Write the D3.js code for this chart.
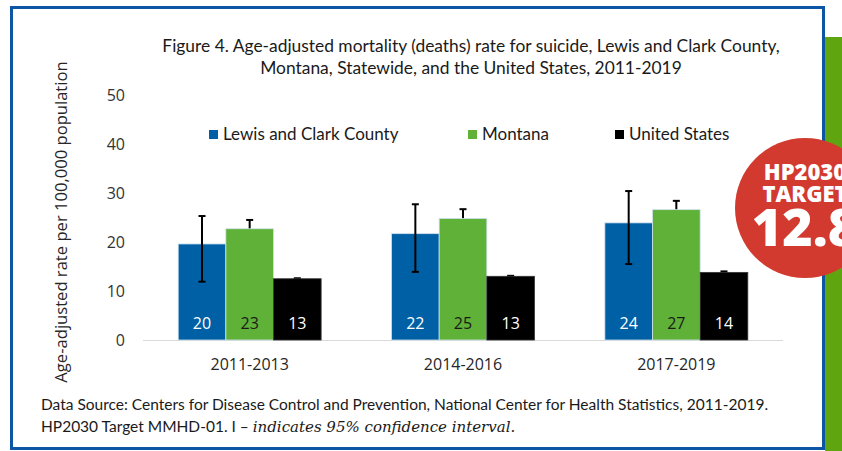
<!DOCTYPE html>
<html><head><meta charset="utf-8">
<script src="https://cdn.jsdelivr.net/npm/d3@7"></script>
<style>body{margin:0;background:#fff}svg{display:block}</style>
</head><body>
<script>
const categories = ["2011-2013", "2014-2016", "2017-2019"];
const seriesNames = ["Lewis and Clark County", "Montana", "United States"];
const lewisClark = [19.6, 21.7, 23.9];
const montana = [22.7, 24.8, 26.6];
const unitedStates = [12.5, 13.0, 13.8];
const lewisClarkLow = [11.9, 13.9, 15.5];
const lewisClarkHigh = [25.3, 27.7, 30.4];
const montanaLow = [21.0, 23.0, 24.6];
const montanaHigh = [24.5, 26.7, 28.4];
const unitedStatesLow = [12.3, 12.8, 13.6];
const unitedStatesHigh = [12.6, 13.1, 14.0];
const yTicks = [0, 10, 20, 30, 40, 50];
const titleLines = ["Figure 4. Age-adjusted mortality (deaths) rate for suicide, Lewis and Clark County,",
                    "Montana, Statewide, and the United States, 2011-2019"];
const yLabel = "Age-adjusted rate per 100,000 population";
const badgeLines = ["HP2030", "TARGET", "12.8"];

const colors = ["#0060a6", "#5fb138", "#000000"];
const labelColors = ["#ffffff", "#1a1a1a", "#ffffff"];
const values = [lewisClark, montana, unitedStates];
const lows = [lewisClarkLow, montanaLow, unitedStatesLow];
const highs = [lewisClarkHigh, montanaHigh, unitedStatesHigh];

const W = 842, H = 451;
const svg = d3.select("body").append("svg").attr("width", W).attr("height", H);
const fontMain = "Lato, 'Open Sans', sans-serif";
const fontAxis = "'Open Sans', 'Noto Sans', sans-serif";

// green strip on right
svg.append("rect").attr("x", 825).attr("y", 37).attr("width", 17).attr("height", 414).attr("fill", "#5fa50f");
// frame
svg.append("rect").attr("x", 11.5).attr("y", 7.5).attr("width", 812).attr("height", 441)
  .attr("fill", "#fff").attr("stroke", "#0d56a6").attr("stroke-width", 3);

// title
svg.append("g").selectAll("text").data(titleLines).join("text")
  .attr("x", 471).attr("y", (d, i) => 52 + i * 22)
  .attr("text-anchor", "middle").attr("font-family", fontMain).attr("font-size", 17.4)
  .attr("fill", "#1a1a1a").text(d => d);

const y = d3.scaleLinear().domain([0, 50]).range([340, 95]);
const x0 = d3.scaleBand().domain(categories).range([143, 783]).paddingInner(0.33).paddingOuter(0.165);
const x1 = d3.scaleBand().domain(seriesNames).range([0, x0.bandwidth()]);

// baseline
svg.append("line").attr("x1", 143).attr("x2", 783).attr("y1", y(0) + 0.5).attr("y2", y(0) + 0.5)
  .attr("stroke", "#d9d9d9").attr("stroke-width", 1);

// y axis
const yAxis = svg.append("g").attr("transform", "translate(143,0)")
  .call(d3.axisLeft(y).tickValues(yTicks).tickSize(0).tickPadding(18));
yAxis.select(".domain").remove();
yAxis.selectAll("text").attr("font-family", fontAxis).attr("font-size", 16).attr("fill", "#333");

// x axis labels
const xAxis = svg.append("g").attr("transform", `translate(0,${y(0)})`)
  .call(d3.axisBottom(x0).tickSize(0).tickPadding(19));
xAxis.select(".domain").remove();
xAxis.selectAll("text").attr("font-family", fontAxis).attr("font-size", 16).attr("fill", "#262626");

// y label
svg.append("text").attr("transform", "translate(67,222) rotate(-90)")
  .attr("text-anchor", "middle").attr("font-family", fontAxis).attr("font-size", 16.6)
  .attr("fill", "#262626").text(yLabel);

function errorBars(g, si) {
  const cap = 3.5;
  categories.forEach((c, ci) => {
    const cx = x0(c) + x1(seriesNames[si]) + x1.bandwidth() / 2;
    const eg = g.append("g").attr("stroke", "#000").attr("stroke-width", 2);
    eg.append("line").attr("x1", cx).attr("x2", cx).attr("y1", y(lows[si][ci])).attr("y2", y(highs[si][ci]));
    eg.append("line").attr("x1", cx - cap).attr("x2", cx + cap).attr("y1", y(lows[si][ci])).attr("y2", y(lows[si][ci]));
    eg.append("line").attr("x1", cx - cap).attr("x2", cx + cap).attr("y1", y(highs[si][ci])).attr("y2", y(highs[si][ci]));
  });
}

const plot = svg.append("g");
// Montana & US error bars drawn behind bars
errorBars(plot, 1);
errorBars(plot, 2);

seriesNames.forEach((s, si) => {
  plot.append("g").selectAll("rect").data(values[si]).join("rect")
    .attr("x", (d, i) => x0(categories[i]) + x1(s))
    .attr("y", d => y(d))
    .attr("width", x1.bandwidth())
    .attr("height", d => y(0) - y(d))
    .attr("fill", colors[si])
    .attr("stroke", si === 2 ? "#333" : "#cfe0ee").attr("stroke-width", 0.8);
});
errorBars(plot, 0);

// value labels
seriesNames.forEach((s, si) => {
  plot.append("g").selectAll("text").data(values[si]).join("text")
    .attr("x", (d, i) => x0(categories[i]) + x1(s) + x1.bandwidth() / 2)
    .attr("y", 329)
    .attr("text-anchor", "middle").attr("font-family", fontAxis).attr("font-size", 16)
    .attr("fill", labelColors[si]).text(d => d3.format(".0f")(d));
});

// legend
const legendX = [209, 468, 615];
const lg = svg.append("g");
seriesNames.forEach((s, si) => {
  lg.append("rect").attr("x", legendX[si]).attr("y", 130).attr("width", 9).attr("height", 9).attr("fill", colors[si]);
  lg.append("text").attr("x", legendX[si] + 14).attr("y", 140)
    .attr("font-family", fontMain).attr("font-size", 17).attr("fill", "#1a1a1a").text(s);
});

// footnote
const fn = svg.append("g").attr("font-family", fontMain).attr("font-size", 15.5).attr("fill", "#1a1a1a");
fn.append("text").attr("x", 41).attr("y", 410)
  .text("Data Source: Centers for Disease Control and Prevention, National Center for Health Statistics, 2011-2019.");
const t2 = fn.append("text").attr("x", 41).attr("y", 432);
t2.append("tspan").text("HP2030 Target MMHD-01. I \u2013 ");
t2.append("tspan").attr("font-family", "'DejaVu Serif', 'Liberation Serif', serif").attr("font-style", "italic")
  .attr("font-size", 15).text("indicates 95% confidence interval.");

// badge
const badge = svg.append("g");
badge.append("circle").attr("cx", 805).attr("cy", 208).attr("r", 70).attr("fill", "#d33a2f");
const bsizes = [22, 22, 52], bys = [180, 202, 246];
badgeLines.forEach((t, i) => {
  badge.append("text").attr("x", 805).attr("y", bys[i]).attr("text-anchor", "middle")
    .attr("font-family", "'Open Sans', sans-serif").attr("font-weight", 800)
    .attr("font-size", bsizes[i]).attr("fill", "#fff").text(t);
});
</script>
</body></html>
